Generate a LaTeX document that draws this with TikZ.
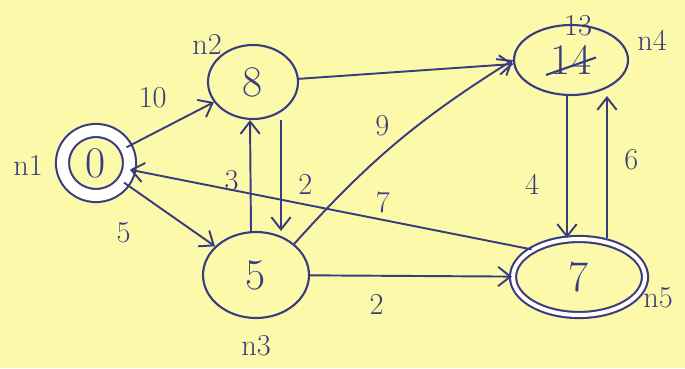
\documentclass[tikz,border=0pt]{standalone}
\usetikzlibrary{shapes.geometric,arrows.meta}
\definecolor{ink}{RGB}{58,60,128}
\definecolor{paper}{RGB}{252,250,170}
\tikzset{
  vertex/.style={ellipse, draw=ink, line width=1.2pt, inner sep=0pt, text=ink, font=\Huge},
  tagname/.style={text=ink, font=\LARGE},
  weight/.style={text=ink, font=\LARGE},
  arc/.style={draw=ink, line width=1.1pt, -{Straight Barb[length=7pt,width=11pt]}}
}
\begin{document}
\begin{tikzpicture}[x=0.02cm, y=-0.02cm]
    % Paper
    \fill[paper] (0,0) rectangle (685,368);
    \useasboundingbox (0,0) rectangle (685,368);

    % Vertices
    \node[vertex, minimum width=1.34cm, minimum height=1.3cm, double, double distance=0.22cm] (n1) at (96,163) {0};
    \node[vertex, minimum width=1.8cm, minimum height=1.48cm] (n2) at (253,82) {8};
    \node[vertex, minimum width=2.12cm, minimum height=1.72cm] (n3) at (256,275) {5};
    \node[vertex, minimum width=2.28cm, minimum height=1.4cm] (n4) at (571,60) {14};
    \node[vertex, minimum width=2.64cm, minimum height=1.52cm, double, double distance=0.08cm] (n5) at (579,277) {7};

    % Crossed-out values
    \draw[ink, line width=1.2pt] ([xshift=-0.5cm, yshift=-0.3cm]n4.center) -- ([xshift=0.5cm, yshift=0.05cm]n4.center);
    \node[weight] (n4new) at (578,26) {13};

    % Vertex names
    \node[tagname] (t1) at (28,165) {n1};
    \node[tagname] (t2) at (207,44) {n2};
    \node[tagname] (t3) at (256,346) {n3};
    \node[tagname] (t4) at (652,40) {n4};
    \node[tagname] (t5) at (658,298) {n5};

    % Arcs
    \draw[arc] (n1) -- (n2) node[weight, pos=0.3, above=11pt] {10};
    \draw[arc] (n1) -- (n3) node[weight, pos=0.3, below left=8pt] {5};
    \draw[arc] ([xshift=-0.1cm]n3.north) -- ([xshift=-0.06cm]n2.south) node[weight, pos=0.45, left=3pt] {3};
    \draw[arc] ([xshift=0.56cm]n2.south) -- ([xshift=0.5cm]n3.north) node[weight, pos=0.58, right=6pt] {2};
    \draw[arc] (n2) -- (n4);
    \draw[arc] (n3.north east) to[bend left=8] node[weight, pos=0.5, above left] {9} (n4.west);
    \draw[arc] (n5.north west) -- (n1) node[weight, pos=0.37, above] {7};
    \draw[arc] (n3) -- (n5) node[weight, pos=0.33, below=7pt] {2};
    \draw[arc] ([xshift=-0.08cm]n4.south) -- ([xshift=-0.24cm]n5.north) node[weight, pos=0.62, left=12pt] {4};
    \draw[arc] ([xshift=0.56cm]n5.north) -- ([xshift=0.72cm]n4.south) node[weight, pos=0.55, right=6pt] {6};
\end{tikzpicture}
\end{document}
